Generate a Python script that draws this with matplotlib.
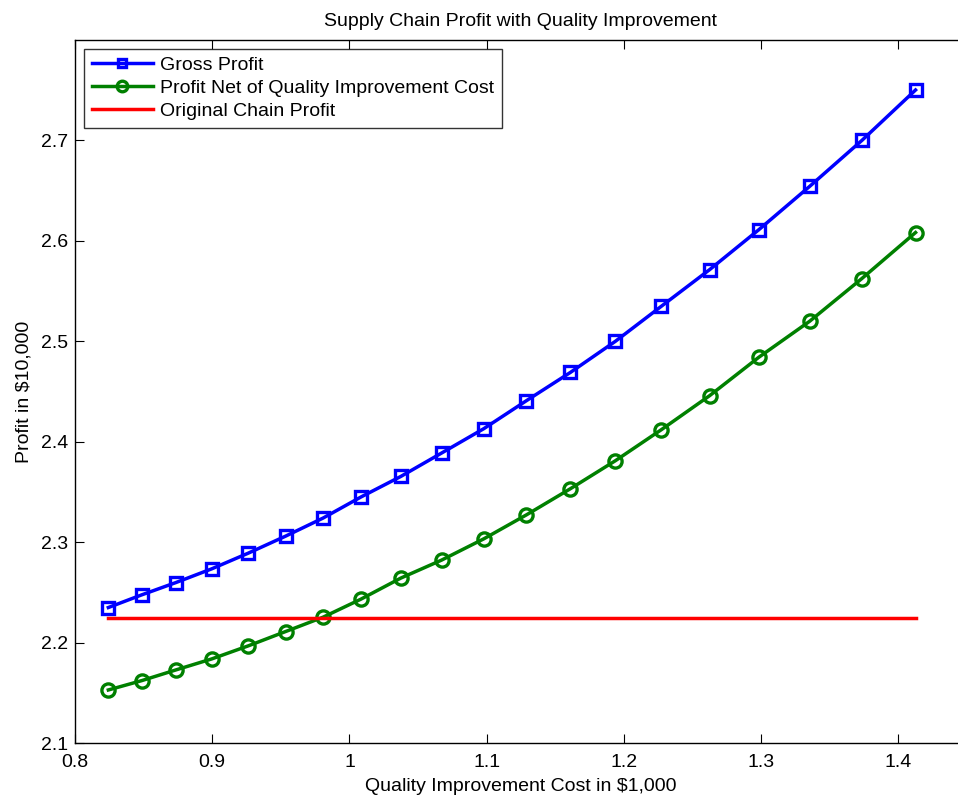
import matplotlib
matplotlib.use("Agg")
import matplotlib.pyplot as plt

cost = [0.8243, 0.8486, 0.8736, 0.8996, 0.9262, 0.9535, 0.9808, 1.0083, 1.0374, 1.0671,
        1.0979, 1.1290, 1.1610, 1.1938, 1.2273, 1.2625, 1.2982, 1.3353, 1.3734, 1.4125]
gross = [2.2349, 2.2475, 2.2598, 2.2734, 2.2890, 2.3060, 2.3240, 2.3449, 2.3654, 2.3887,
         2.4130, 2.4409, 2.4690, 2.5000, 2.5349, 2.5714, 2.6110, 2.6542, 2.7000, 2.7502]
net = [2.1528, 2.1621, 2.1728, 2.1837, 2.1967, 2.2110, 2.2253, 2.2432, 2.2642, 2.2821,
       2.3033, 2.3272, 2.3532, 2.3811, 2.4120, 2.4459, 2.4840, 2.5199, 2.5625, 2.6083]
original = 2.2243

plt.rcParams['font.family'] = ['Liberation Sans', 'DejaVu Sans']

fig = plt.figure(figsize=(9.58, 8.02), dpi=100)
ax = fig.add_axes([75/958, 59/802, 892/958, 703/802])

ax.plot(cost, gross, color='#0000ff', lw=2.5, marker='s', ms=8, mew=2.4,
        mfc='none', label='Gross Profit')
ax.plot(cost, net, color='#008000', lw=2.5, marker='o', ms=9.5, mew=2.4,
        mfc='none', label='Profit Net of Quality Improvement Cost')
ax.plot([cost[0], cost[-1]], [original, original], color='#ff0000', lw=2.5,
        label='Original Chain Profit')

ax.set_xlim(0.8, 1.45)
ax.set_ylim(2.1, 2.8)
ax.set_xticks([0.8, 0.9, 1.0, 1.1, 1.2, 1.3, 1.4])
ax.set_xticklabels(['0.8', '0.9', '1', '1.1', '1.2', '1.3', '1.4'])
ax.set_yticks([2.1, 2.2, 2.3, 2.4, 2.5, 2.6, 2.7])
ax.set_yticklabels(['2.1', '2.2', '2.3', '2.4', '2.5', '2.6', '2.7'])
ax.tick_params(direction='in', length=6.5, width=0.8, top=True, right=False,
               labelsize=14)
ax.tick_params(axis='x', pad=8)
ax.tick_params(axis='y', pad=5)
for s in ax.spines.values():
    s.set_linewidth(1.0)

ax.set_title('Supply Chain Profit with Quality Improvement', fontsize=14, pad=10)
ax.set_xlabel('Quality Improvement Cost in $1,000', fontsize=14, labelpad=5)
ax.set_ylabel('Profit in $10,000', fontsize=14, labelpad=6)

leg = ax.legend(loc='upper left', fontsize=14, frameon=True, fancybox=False,
                edgecolor='black', handlelength=3.15, borderaxespad=0.45,
                borderpad=0.4, labelspacing=0.27, handletextpad=0.36,
                markerscale=0.8)
leg.get_frame().set_linewidth(1.0)

fig.savefig('out.png', dpi=100)
